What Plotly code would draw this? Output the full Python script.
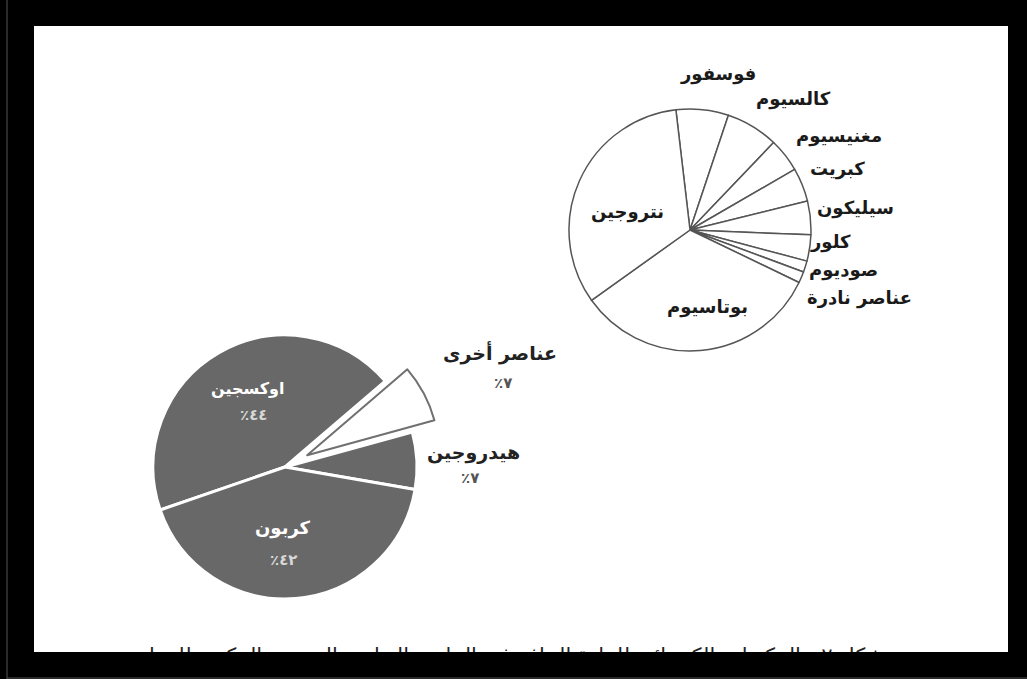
import plotly.graph_objects as go

# ---------------- data ----------------
left_labels = ["اوكسجين", "عناصر أخرى", "هيدروجين", "كربون"]
left_values = [44, 7, 7, 42]
left_pct_text = ["٪٤٤", "٪٧", "٪٧", "٪٤٢"]

right_labels = ["فوسفور", "كالسيوم", "مغنيسيوم", "كبريت", "سيليكون",
                "كلور", "صوديوم", "عناصر نادرة", "بوتاسيوم", "نتروجين"]
right_values = [7, 7, 4.5, 4.5, 4.5, 3.5, 1.5, 1.5, 33, 33]

caption = "شكل ٢ : المكونات الكيميائية للمادة الجافة في النبات والعناصر المعدنية المكونة للرماد"

# ---------------- layout helpers ----------------
W, H = 1027, 679
L, R, T, B = 34, 1008, 26, 652
PW, PH = R - L, B - T


def fx(px):
    return (px - L) / PW


def fy(py):
    return (B - py) / PH


FONT = "DejaVu Sans"
GRAY = "#686868"

fig = go.Figure()

# left pie (exploded slice)
pull = 0.19
r_left = 132
cxl, cyl = 285, 467
half = r_left * (1 + pull)
fig.add_trace(go.Pie(
    values=left_values,
    labels=left_labels,
    sort=False,
    direction="clockwise",
    rotation=251,
    pull=[0, pull, 0, 0],
    marker=dict(colors=[GRAY, "white", GRAY, GRAY],
                line=dict(color=["white", "#707070", "white", "white"],
                          width=[3, 2, 3, 3])),
    textinfo="none",
    hoverinfo="label+value",
    showlegend=False,
    domain=dict(x=[fx(cxl - half), fx(cxl + half)],
                y=[fy(cyl + half), fy(cyl - half)]),
))

# right pie (outlined)
r_right = 121
cxr, cyr = 690, 230
fig.add_trace(go.Pie(
    values=right_values,
    labels=right_labels,
    sort=False,
    direction="clockwise",
    rotation=-6.7,
    marker=dict(colors=["white"] * len(right_values),
                line=dict(color="#555555", width=1.5)),
    textinfo="none",
    hoverinfo="label+value",
    showlegend=False,
    domain=dict(x=[fx(cxr - r_right), fx(cxr + r_right)],
                y=[fy(cyr + r_right), fy(cyr - r_right)]),
))

# clipped caption at the bottom (cut by the frame)
fig.add_trace(go.Scatter(
    x=[fx(512)], y=[fy(647)], mode="text", text=[caption],
    textposition="bottom center",
    textfont=dict(family=FONT, size=21, color="#222222"),
    cliponaxis=True, hoverinfo="skip", showlegend=False,
))

annotations = []


def add_text(txt, px, py, size, color, bold=True):
    annotations.append(dict(
        x=fx(px), y=fy(py), xref="x", yref="y", showarrow=False,
        text=f"<b>{txt}</b>" if bold else txt,
        font=dict(family=FONT, size=size, color=color),
        xanchor="center", yanchor="middle",
    ))


# left pie labels
left_name_pos = [(247, 388), (500, 353), (473, 452), (283, 528)]
left_pct_pos = [(253, 415), (503, 383), (470, 478), (283, 560)]
left_name_col = ["white", "#222222", "#222222", "white"]
left_name_size = [16, 19, 19, 18]
left_pct_col = ["#d8d8d8", "#555555", "#555555", "#d8d8d8"]
for i, lab in enumerate(left_labels):
    add_text(lab, *left_name_pos[i], left_name_size[i], left_name_col[i])
    add_text(left_pct_text[i], *left_pct_pos[i], 15, left_pct_col[i])

# right pie labels
right_pos = [(718, 74), (793, 99), (839, 136), (837, 169), (855, 208),
             (830, 242), (843, 270), (859, 298), (707, 307), (627, 212)]
for i, lab in enumerate(right_labels):
    add_text(lab, *right_pos[i], 18, "#1a1a1a")

fig.update_layout(
    width=W, height=H,
    margin=dict(l=L, r=W - R, t=T, b=H - B, pad=0),
    paper_bgcolor="black",
    plot_bgcolor="white",
    xaxis=dict(range=[0, 1], visible=False, fixedrange=True),
    yaxis=dict(range=[0, 1], visible=False, fixedrange=True),
    annotations=annotations,
    shapes=[
        dict(type="line", xref="paper", yref="paper",
             x0=fx(7), x1=fx(7), y0=fy(0), y1=fy(679),
             line=dict(color="#555555", width=1)),
        dict(type="line", xref="paper", yref="paper",
             x0=fx(7), x1=fx(1027), y0=fy(678), y1=fy(678),
             line=dict(color="#555555", width=1)),
    ],
    showlegend=False,
)

fig.write_html("out.html")
